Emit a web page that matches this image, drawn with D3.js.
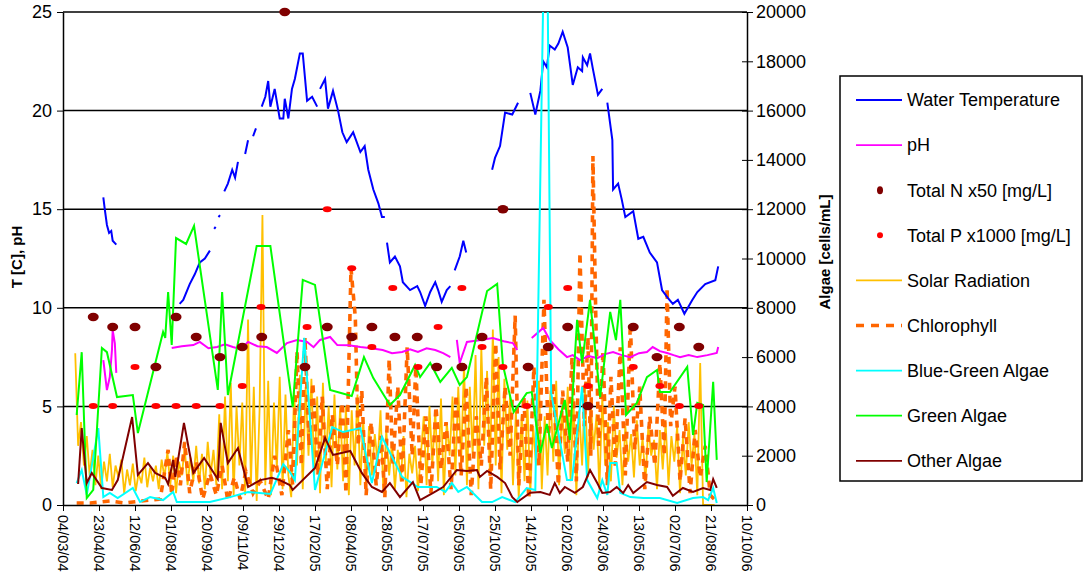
<!DOCTYPE html>
<html>
<head>
<meta charset="utf-8">
<script src="https://cdn.jsdelivr.net/npm/d3@7"></script>
<style>
  body { margin: 0; background: #fff; }
  text { font-family: "Liberation Sans", Arial, sans-serif; fill: #000; }
</style>
</head>
<body>
<script>
// data: [day since 04/03/04, value]; null = gap in the logger record

var startDate = new Date(2004, 2, 4)
var tickDays = d3.range(0, 951, 50)
var leftTicks = [0, 5, 10, 15, 20, 25]
var rightTicks = d3.range(0, 20001, 2000)

var waterTemp = [
  [56,15.6],[58,15.0],[61,14.2],[64,13.8],[67,13.9],[69,13.4],[74,13.2], null,
  [162,10.2],[167,10.4],[176,11.2],[183,11.7],[190,12.3],[197,12.5],[204,12.9], null,
  [210,14.0],[212,14.1], null, [216,14.6],[218,14.7], null,
  [224,15.9],[229,16.3],[235,17.0],[239,16.6],[243,17.4], null,
  [253,17.8],[257,18.5], null, [264,18.7],[268,19.1], null,
  [276,20.2],[281,20.7],[285,21.5],[288,20.2],[294,21.1],[301,19.6],[306,19.6],[308,20.6],[313,19.6],
  [318,21.1],[322,21.6],[329,22.9],[333,22.9],[339,20.5],[346,20.7],[353,20.2], null,
  [357,21.1],[364,21.6],[368,20.1],[375,21.0],[382,20.0],[388,18.9],[394,18.4],[403,18.9],[413,17.9],
  [419,18.2],[424,17.0],[431,16.0],[438,15.3],[443,14.6],[447,14.6], null,
  [450,13.3],[454,12.3],[461,12.6],[468,12.1],[472,11.3],[482,10.9],[492,11.1],[496,10.8],[503,10.1],
  [510,10.8],[517,11.3],[521,10.9],[526,10.3],[533,10.9],[538,11.1], null,
  [544,11.9],[551,12.6],[556,13.4],[560,12.8], null,
  [596,17.0],[600,17.6],[607,18.2],[614,19.9],[624,19.8],[632,20.4], null,
  [649,20.9],[656,19.8],[663,21.0],[667,22.5],[672,22.2],[676,23.3],[683,23.1],[688,23.4],[694,24.0],
  [701,23.2],[708,21.3],[715,22.2],[721,22.0],[722,22.7],[728,22.3],[732,22.9],[736,22.1],[743,20.8],[749,21.1], null,
  [756,20.4],[763,18.5],[764,16.0],[771,16.3],[776,15.5],[781,14.6],[792,14.9],[799,13.5],[806,13.6],
  [815,12.8],[825,12.3],[832,10.9],[840,10.5],[847,10.2],[854,10.4],[863,9.7],[874,10.4],[881,10.8],
  [892,11.2],[906,11.4],[910,12.1]
]

var phData = [
  [56,7.35],[61,5.83],[65,6.49],[68,7.86],[69,8.87],[72,8.2],[74,6.7], null,
  [151,7.96],[165,8.05],[181,8.11],[190,8.27],[202,7.95],[214,8.01],[225,8.15],[236,8.01],[247,7.9],
  [257,8.27],[270,8.05],[283,8.01],[297,7.71],[311,8.21],[325,8.37],[339,8.27],[348,8.0],[357,8.37],
  [371,8.52],[381,8.11],[397,8.1],[413,8.01],[428,7.95],[444,7.86],[457,7.7],[471,7.76],[482,7.9],
  [493,7.76],[505,7.95],[517,7.86],[528,7.7],[538,7.5], null,
  [547,8.37],[551,7.2],[561,8.27],[578,8.35],[597,8.47],[612,8.3],[625,8.21],[631,7.86], null,
  [651,8.47],[667,8.98],[676,8.37],[688,7.9],[700,7.5],[708,7.6],[718,7.35],[730,7.55],[742,7.45],
  [753,7.65],[764,7.76],[776,7.6],[788,7.5],[800,7.7],[811,7.76],[819,8.01],[829,7.8],[839,7.71],
  [848,7.6],[857,7.5],[869,7.6],[881,7.5],[895,7.6],[908,7.71],[910,8.01]
]

var totalN = [
  [42,9.53],[69,9.03],[100,9.03],[129,7.0],[157,9.53],[185,8.52],[218,7.5],[249,8.01],[276,8.52],
  [308,25.0],[336,7.0],[367,9.03],[401,8.52],[429,9.03],[461,8.52],[492,8.52],[519,7.0],[554,7.0],
  [582,8.52],[611,15.0],[646,7.0],[674,8.01],[701,9.03],[729,5.02],[792,9.03],[825,7.5],[856,9.03],[883,8.01]
]

var totalP = [
  [42,5.02],[69,5.02],[100,7.0],[129,5.02],[157,5.02],[185,5.02],[218,5.02],[249,6.03],[275,10.04],
  [339,9.03],[367,15.0],[401,12.0],[429,8.01],[458,11.0],[493,7.0],[521,9.03],[554,11.0],[582,8.01],
  [611,7.0],[644,5.02],[674,10.04],[701,11.0],[729,6.03],[792,7.0],[829,6.03],[856,5.02],[883,5.02]
]

// solar radiation, one reading every 4 days from day 17
var solarStart = 17
var solarStep = 4
var solarValues = [
  7.7,3.0,4.2,2.0,3.5,
  1.5,2.8,1.0,2.5,0.8,2.2,1.2,2.6,0.9,2.0,1.4,2.3,0.6,1.8,1.0,2.1,0.7,1.6,1.1,2.4,0.9,1.9,1.2,2.0,0.8,2.3,1.4,2.7,1.0,
  2.5,0.6,2.2,1.5,2.9,1.0,2.4,1.2,3.0,1.1,2.6,0.8,3.2,1.5,2.8,1.0,
  4.6,0.8,5.5,1.2,6.2,0.5,5.0,2.0,5.2,0.5,9.4,1.0,6.0,0.2,4.8,14.7,1.0,6.3,0.5,5.2,1.8,6.5,0.8,5.6,1.5,
  0.4,5.8,2.0,6.6,0.8,6.0,2.5,6.4,1.5,5.5,0.6,6.2,2.2,5.0,0.9,5.6,1.8,5.0,
  1.2,5.0,0.5,4.8,2.0,5.6,1.0,4.4,0.8,4.0,1.5,3.6,2.2,4.8,0.6,3.8,1.5,
  3.2,0.8,2.8,1.2,3.5,0.4,2.6,1.6,3.0,0.7,2.5,
  4.5,1.0,5.0,2.0,4.8,1.2,5.4,0.5,4.2,2.5,5.5,1.5,6.0,2.2,
  7.2,1.0,6.0,2.5,7.6,0.8,8.0,3.0,6.8,1.5,8.9,2.0,7.5,0.6,6.4,2.8,5.6,1.0,4.8,0.3,
  4.6,1.2,5.3,0.6,4.0,2.0,6.3,0.8,4.5,
  1.5,5.8,2.2,6.3,1.0,5.0,2.6,6.0,1.2,5.4,0.5,4.8,2.0,6.2,1.4,5.2,2.8,4.6,0.8,5.5,2.0,4.2,1.2,5.0,2.4,3.8,
  1.0,4.0,2.2,3.6,1.4,4.3,2.0,3.4,1.2,4.0,2.5,3.3,0.8,3.8,1.8,4.2,1.0,3.5,2.2,4.0,0.6,3.4,1.5,4.2,2.0,3.6,0.5,7.2,0,0,
  0,0,0
]

var chlorophyll = [
  [19,0.1],[38,0.1],[65,0.2],[86,0.1],[107,0.2],[135,0.3],[146,2.8],[151,0.5],[157,2.5],[163,1.0],
  [169,3.2],[176,0.6],[185,2.2],[194,0.3],[204,1.6],[213,0.5],[221,2.0],[229,0.2],[238,1.4],[246,0.3],
  [254,1.7],[264,0.6],[274,1.2],[285,0.3],[294,2.5],[304,0.5],[313,3.8],[319,1.0],[325,7.8],[331,2.0],
  [336,8.5],[342,3.0],[347,6.2],[354,1.5],[360,5.5],[367,0.8],[374,4.6],[381,2.0],[388,5.2],[393,0.6],
  [400,12.0],[406,9.5],[410,3.0],[415,5.8],[421,0.5],[428,4.2],[435,1.0],[442,3.5],[447,0.4],[453,7.4],
  [458,2.0],[465,6.0],[471,1.2],[478,8.0],[485,2.5],[490,7.0],[497,1.0],[504,4.5],[511,0.6],[518,5.0],
  [525,1.8],[532,4.2],[539,0.8],[546,5.6],[553,1.5],[560,6.0],[567,0.5],[574,4.5],[581,2.0],[588,6.5],
  [594,0.8],[601,8.2],[607,1.8],[614,6.0],[621,2.5],[628,9.6],[633,1.0],[640,5.5],[647,0.3],[654,7.0],
  [661,2.0],[668,10.4],[674,3.5],[681,6.2],[688,1.0],[694,5.8],[701,2.2],[707,7.5],[713,1.2],[718,12.8],
  [724,4.0],[729,8.5],[733,2.5],[736,17.7],[740,9.5],[744,3.0],[750,7.8],[756,1.0],[761,6.5],[767,2.0],
  [774,8.0],[781,1.5],[788,9.2],[794,2.8],[801,6.0],[808,0.8],[815,4.5],[822,2.0],[829,7.2],[835,2.5],
  [839,11.0],[844,4.0],[850,6.0],[857,1.2],[864,4.4],[871,0.6],[878,3.8],[885,1.4],[892,3.0],[899,0.5],[907,0.2]
]

var blueGreen = [
  [19,890],[26,1420],[33,410],[49,3120],[56,320],[65,490],[76,280],[97,690],[107,120],[121,320],
  [139,200],[153,530],[158,120],[204,120],[232,320],[257,530],[288,450],[306,1660],[315,1340],[322,1010],
  [335,6780],[350,610],[374,3160],[389,2960],[413,3120],[429,890],[443,2760],[471,1140],[493,730],[519,730],
  [531,530],[540,890],[549,530],[561,730],[582,120],[596,120],[610,320],[628,120],[644,690],[656,610],
  [671,27900],[678,4540],[700,1010],[707,1010],[721,4790],[728,1010],[742,280],[749,1010],[756,410],[760,1700],
  [769,1700],[774,490],[788,320],[806,280],[829,280],[853,80],[875,280],[889,320],[896,200],[903,690],[908,80]
]

var greenAlgae = [
  [19,3650],[26,6200],[33,280],[42,610],[54,6370],[61,6200],[75,4380],[97,4460],[104,2920],[139,7020],
  [142,6780],[146,8640],[151,6490],[157,10830],[171,10590],[182,11320],[215,4670],[221,8640],[229,4460],[269,10510],
  [288,10510],[319,3980],[333,9130],[350,8930],[371,4670],[401,4420],[418,6000],[431,5150],[454,4060],[468,4460],
  [489,5680],[496,5190],[510,5760],[524,4990],[540,5560],[551,4870],[561,5190],[589,8680],[603,8970],[611,5680],
  [626,3770],[644,4540],[651,4580],[663,2110],[672,3290],[679,2310],[697,4260],[704,2640],[714,7510],[721,5760],
  [732,8320],[746,4380],[760,7830],[768,6690],[774,8320],[782,3650],[797,4140],[811,5190],[825,5480],[829,4580],
  [843,4580],[867,5600],[875,2840],[881,4140],[889,4060],[894,930],[903,5000],[908,1830]
]

var otherAlgae = [
  [21,850],[26,3120],[33,890],[40,1300],[54,690],[68,610],[76,1010],[96,3570],[104,1220],[118,1700],
  [128,1300],[142,1100],[146,850],[153,1830],[156,1140],[168,3330],[181,1300],[196,1910],[215,1050],[219,3330],
  [229,1700],[243,2310],[257,730],[274,1010],[290,1100],[301,1010],[315,810],[319,610],[350,1500],[364,2720],
  [375,2030],[399,2190],[415,1300],[429,730],[443,530],[454,890],[468,320],[486,930],[496,200],[514,490],
  [528,730],[547,1420],[561,1380],[575,1420],[579,1140],[589,1380],[603,1140],[614,890],[624,320],[631,120],
  [649,500],[663,530],[676,410],[683,890],[690,490],[697,730],[711,490],[722,730],[732,1420],[742,890],
  [749,490],[760,530],[769,730],[778,490],[785,810],[792,490],[811,930],[825,810],[839,730],[847,370],
  [861,690],[875,530],[889,690],[899,610],[903,1050],[908,690]
]

var legendNames = ['Water Temperature', 'pH', 'Total N x50 [mg/L]', 'Total P x1000 [mg/L]',
  'Solar Radiation', 'Chlorophyll', 'Blue-Green Algae', 'Green Algae', 'Other Algae']

// page setup

var width = 1083
var height = 576
var plot = { left: 63, right: 747, top: 12, bottom: 505 }

var colors = {
  temp: '#0000FF', ph: '#FF00FF', n: '#800000', p: '#FF0000', solar: '#FFC000',
  chl: '#FF6600', bg: '#00FFFF', green: '#00FF00', other: '#800000'
}

var svg = d3.select('body').append('svg')
  .attr('width', width)
  .attr('height', height)

function dayDate(d) {
  return d3.timeDay.offset(startDate, d)
}

var x = d3.scaleTime()
  .domain([startDate, dayDate(950)])
  .range([plot.left, plot.right])

var yL = d3.scaleLinear().domain([0, 25]).range([plot.bottom, plot.top])
var yR = d3.scaleLinear().domain([0, 20000]).range([plot.bottom, plot.top])

svg.append('clipPath').attr('id', 'clip')
  .append('rect')
  .attr('x', plot.left).attr('y', plot.top)
  .attr('width', plot.right - plot.left).attr('height', plot.bottom - plot.top)

// gridlines

svg.append('g').selectAll('line')
  .data(leftTicks.slice(1))
  .enter().append('line')
  .attr('x1', plot.left).attr('x2', plot.right)
  .attr('y1', d => yL(d)).attr('y2', d => yL(d))
  .style('stroke', '#000').style('stroke-width', 1.5)

var chart = svg.append('g').attr('clip-path', 'url(#clip)')

function lineFor(y) {
  return d3.line()
    .defined(d => d)
    .x(d => x(dayDate(d[0])))
    .y(d => y(d[1]))
}

// series

var solarData = solarValues.map((v, i) => [solarStart + i * solarStep, v])

chart.append('path').datum(solarData)
  .attr('d', lineFor(yL))
  .style('fill', 'none').style('stroke', colors.solar).style('stroke-width', 1.8)

chart.append('path').datum(chlorophyll)
  .attr('d', lineFor(yL))
  .style('fill', 'none').style('stroke', colors.chl).style('stroke-width', 3.6)
  .style('stroke-dasharray', '7,6')

chart.append('path').datum(waterTemp)
  .attr('d', lineFor(yL))
  .style('fill', 'none').style('stroke', colors.temp).style('stroke-width', 2)

chart.append('path').datum(phData)
  .attr('d', lineFor(yL))
  .style('fill', 'none').style('stroke', colors.ph).style('stroke-width', 2)

chart.append('path').datum(blueGreen)
  .attr('d', lineFor(yR))
  .style('fill', 'none').style('stroke', colors.bg).style('stroke-width', 2)

chart.append('path').datum(greenAlgae)
  .attr('d', lineFor(yR))
  .style('fill', 'none').style('stroke', colors.green).style('stroke-width', 2)

chart.append('path').datum(otherAlgae)
  .attr('d', lineFor(yR))
  .style('fill', 'none').style('stroke', colors.other).style('stroke-width', 2)

svg.append('g').selectAll('ellipse')
  .data(totalN)
  .enter().append('ellipse')
  .attr('cx', d => x(dayDate(d[0])))
  .attr('cy', d => yL(d[1]))
  .attr('rx', 5.5).attr('ry', 4.2)
  .style('fill', colors.n)

svg.append('g').selectAll('ellipse')
  .data(totalP)
  .enter().append('ellipse')
  .attr('cx', d => x(dayDate(d[0])))
  .attr('cy', d => yL(d[1]))
  .attr('rx', 4.5).attr('ry', 3)
  .style('fill', colors.p)

// axes

var fmt = d3.timeFormat('%d/%m/%y')

var xAxis = svg.append('g')
  .attr('transform', `translate(0, ${plot.bottom})`)
  .call(d3.axisBottom(x).tickValues(tickDays.map(dayDate)).tickSize(6).tickSizeOuter(0).tickFormat(''))
xAxis.select('.domain').style('stroke-width', 1.5)

svg.append('g').selectAll('text')
  .data(tickDays)
  .enter().append('text')
  .attr('transform', d => `translate(${x(dayDate(d))}, ${plot.bottom + 10}) rotate(90)`)
  .attr('dy', '0.35em')
  .style('font-size', '14.5px')
  .text(d => fmt(dayDate(d)))

var leftAxis = svg.append('g')
  .attr('transform', `translate(${plot.left}, 0)`)
  .call(d3.axisLeft(yL).tickValues(leftTicks).tickSize(6).tickSizeOuter(0).tickPadding(5))
leftAxis.select('.domain').style('stroke-width', 1.5)
leftAxis.selectAll('text').style('font-size', '18px')

var rightAxis = svg.append('g')
  .attr('transform', `translate(${plot.right}, 0)`)
  .call(d3.axisRight(yR).tickValues(rightTicks).tickFormat(d3.format('d'))
    .tickSize(6).tickSizeOuter(0).tickPadding(3))
rightAxis.select('.domain').style('stroke-width', 1.5)
rightAxis.selectAll('text').style('font-size', '18px')
rightAxis.selectAll('.tick line').attr('x1', -5)

svg.append('text')
  .attr('transform', 'translate(22, 257) rotate(-90)')
  .attr('text-anchor', 'middle')
  .style('font-size', '15px').style('font-weight', 'bold')
  .text('T [C], pH')

svg.append('text')
  .attr('transform', 'translate(830, 252) rotate(-90)')
  .attr('text-anchor', 'middle')
  .style('font-size', '15px').style('font-weight', 'bold')
  .text('Algae [cells/mL]')

// legend

var legend = svg.append('g')

legend.append('rect')
  .attr('x', 840).attr('y', 76).attr('width', 242).attr('height', 405)
  .style('fill', '#fff').style('stroke', '#000').style('stroke-width', 1.5)

var legendColors = [colors.temp, colors.ph, colors.n, colors.p, colors.solar, colors.chl, colors.bg, colors.green, colors.other]

var row = legend.selectAll('.row')
  .data(legendNames)
  .enter().append('g')
  .attr('class', 'row')
  .attr('transform', (d, i) => `translate(0, ${100 + i * 45.1})`)

row.each(function(d, i) {
  var g = d3.select(this)
  if (i === 2) {
    g.append('ellipse').attr('cx', 880).attr('cy', 0).attr('rx', 3).attr('ry', 4)
      .style('fill', legendColors[i])
  } else if (i === 3) {
    g.append('circle').attr('cx', 880).attr('cy', 0).attr('r', 3)
      .style('fill', legendColors[i])
  } else {
    g.append('line').attr('x1', 856).attr('x2', 902)
      .style('stroke', legendColors[i])
      .style('stroke-width', i === 5 ? 3.5 : 1.8)
      .style('stroke-dasharray', i === 5 ? '8,7' : null)
  }
  g.append('text').attr('x', 907).attr('dy', '0.35em')
    .style('font-size', '18px')
    .text(d)
})
</script>
</body>
</html>
